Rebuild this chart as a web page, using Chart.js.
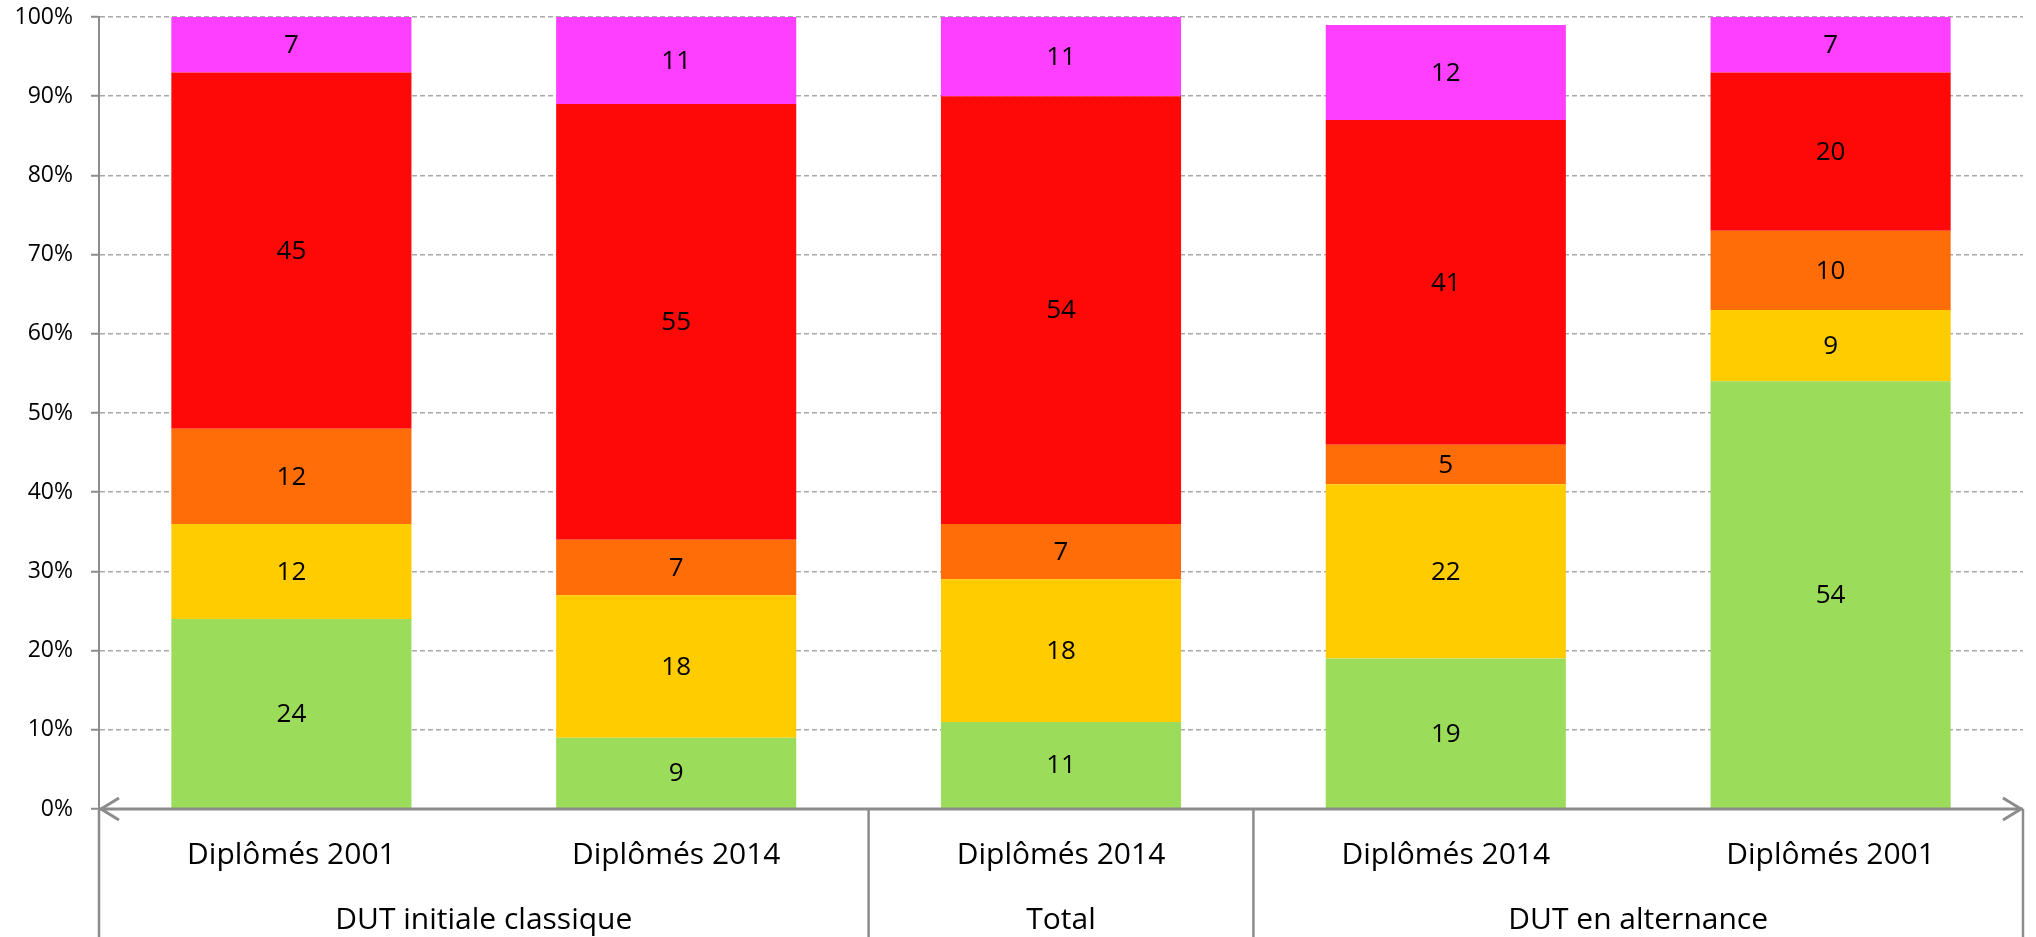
<!DOCTYPE html>
<html>
<head>
<meta charset="utf-8">
<script src="https://cdn.jsdelivr.net/npm/chart.js@4"></script>
<style>
  html, body { margin: 0; padding: 0; background: #fff; }
  #wrap { width: 2036px; height: 937px; }
</style>
</head>
<body>
<div id="wrap"><canvas id="chartvas" width="2036" height="937"></canvas></div>
<script>
'use strict';

// categories, bottom row then top row of the x axis
const categories = ['Diplômés 2001', 'Diplômés 2014', 'Diplômés 2014', 'Diplômés 2014', 'Diplômés 2001'];
const groupLabels = ['DUT initiale classique', 'Total', 'DUT en alternance'];
const groupSizes = [2, 1, 2];

// stacked shares (%) from bottom to top
const vert    = [24, 9, 11, 19, 54];
const jaune   = [12, 18, 18, 22, 9];
const orange  = [12, 7, 7, 5, 10];
const rouge   = [45, 55, 54, 41, 20];
const magenta = [7, 11, 11, 12, 7];

const yTicks = [0, 10, 20, 30, 40, 50, 60, 70, 80, 90, 100];

const FONT = '"Open Sans", "Liberation Sans", sans-serif';
const AXIS_GREY = '#8c8c8c';

// ---- labels inside each segment ----
const segmentLabels = {
    id: 'segmentLabels',
    afterDatasetsDraw(chart) {
        const ctx = chart.ctx;
        ctx.save();
        ctx.font = '26px ' + FONT;
        ctx.fillStyle = '#000';
        ctx.textAlign = 'center';
        ctx.textBaseline = 'middle';
        chart.data.datasets.forEach((ds, i) => {
            const meta = chart.getDatasetMeta(i);
            meta.data.forEach((bar, j) => {
                const top = Math.max(bar.y, chart.chartArea.top);
                ctx.fillText(String(ds.data[j]), bar.x, (top + bar.base) / 2 + 1);
            });
        });
        ctx.restore();
    }
};

// ---- x axis: arrow line, two rows of labels and group separators ----
const groupedAxis = {
    id: 'groupedAxis',
    afterDraw(chart) {
        const ctx = chart.ctx;
        const area = chart.chartArea;
        const x = chart.scales.x;
        const bottom = chart.height;
        const y0 = area.bottom;
        const step = (area.right - area.left) / categories.length;

        ctx.save();
        ctx.strokeStyle = AXIS_GREY;
        ctx.lineCap = 'butt';

        // axis line with an arrow on each end
        ctx.lineWidth = 3;
        ctx.beginPath();
        ctx.moveTo(area.left, y0);
        ctx.lineTo(area.right, y0);
        ctx.stroke();
        ctx.lineJoin = 'miter';
        ctx.beginPath();
        ctx.moveTo(area.left + 20, y0 - 11);
        ctx.lineTo(area.left + 2, y0);
        ctx.lineTo(area.left + 20, y0 + 11);
        ctx.moveTo(area.right - 20, y0 - 11);
        ctx.lineTo(area.right - 2, y0);
        ctx.lineTo(area.right - 20, y0 + 11);
        ctx.stroke();

        // separators between groups, plus both outer edges
        ctx.lineWidth = 2.5;
        let edges = [0];
        let acc = 0;
        groupSizes.forEach(n => { acc += n; edges.push(acc); });
        edges.forEach(k => {
            const px = area.left + k * step;
            ctx.beginPath();
            ctx.moveTo(px, k === 0 ? area.bottom - 1 : y0);
            ctx.lineTo(px, bottom);
            ctx.stroke();
        });

        // category names
        ctx.fillStyle = '#000';
        ctx.font = '30px ' + FONT;
        ctx.textAlign = 'center';
        ctx.textBaseline = 'alphabetic';
        categories.forEach((name, i) => {
            ctx.fillText(name, x.getPixelForValue(i), y0 + 55);
        });

        // group names, centred under their categories
        groupLabels.forEach((name, g) => {
            const mid = area.left + (edges[g] + edges[g + 1]) / 2 * step;
            ctx.fillText(name, mid, y0 + 120);
        });
        ctx.restore();
    }
};

const mkSet = (label, data, color) => ({
    label: label,
    data: data,
    backgroundColor: color,
    borderWidth: 0,
    barPercentage: 0.624,
    categoryPercentage: 1
});

const data = {
    labels: categories,
    datasets: [
        mkSet('vert', vert, '#9bdd5a'),
        mkSet('jaune', jaune, '#ffcc00'),
        mkSet('orange', orange, '#ff6d09'),
        mkSet('rouge', rouge, '#ff0808'),
        mkSet('magenta', magenta, '#ff3fff')
    ]
};

const myChart = new Chart(document.getElementById('chartvas'), {
    type: 'bar',
    data: data,
    plugins: [segmentLabels, groupedAxis],
    options: {
        responsive: false,
        animation: false,
        layout: { padding: { top: 17, right: 13, bottom: 128, left: 0 } },
        plugins: {
            legend: { display: false },
            tooltip: { enabled: false }
        },
        scales: {
            x: {
                stacked: true,
                display: false
            },
            y: {
                stacked: true,
                min: 0,
                max: 100,
                afterFit: scale => {
                    scale.width = 99;
                    // let the layout padding alone decide the plot's top and bottom
                    scale.paddingTop = 0;
                    scale.paddingBottom = 0;
                },
                afterBuildTicks: scale => { scale.ticks = yTicks.map(v => ({ value: v })); },
                ticks: {
                    padding: 18,
                    color: '#000',
                    font: { family: FONT, size: 23 },
                    callback: v => v + '%'
                },
                grid: {
                    color: '#a8a8a8',
                    lineWidth: 1.5,
                    tickLength: 8,
                    tickColor: AXIS_GREY,
                    tickWidth: 2,
                    tickBorderDash: []
                },
                border: {
                    display: true,
                    color: AXIS_GREY,
                    width: 2,
                    dash: [5, 3]
                }
            }
        }
    }
});
</script>
</body>
</html>
